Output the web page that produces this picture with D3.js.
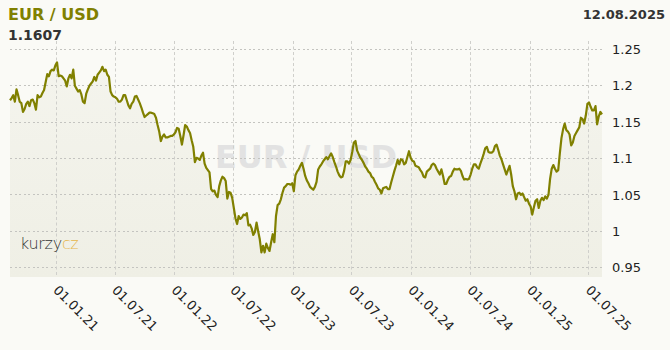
<!DOCTYPE html>
<html>
<head>
<meta charset="utf-8">
<script src="https://cdn.jsdelivr.net/npm/d3@7"></script>
<style>
  html, body { margin: 0; padding: 0; background: #fafaf6; }
  svg { display: block; font-family: "DejaVu Sans", Verdana, sans-serif; }
</style>
</head>
<body>
<svg id="chart" width="670" height="350"></svg>
<script>
// ---- data (EUR/USD, sampled roughly every 5 days) ----
const pairName = "EUR / USD";
const lastValue = "1.1607";
const lastDateLabel = "12.08.2025";
const startDate = "2020-08-12";
const endDate = "2025-08-12";
const rates = [
  1.180,1.183,1.187,1.178,1.195,1.187,1.178,1.176,1.164,1.168,
  1.175,1.178,1.172,1.180,1.181,1.176,1.167,1.187,1.184,1.185,
  1.190,1.194,1.205,1.216,1.213,1.220,1.222,1.221,1.228,1.232,
  1.213,1.214,1.213,1.210,1.207,1.199,1.210,1.215,1.210,1.222,
  1.200,1.196,1.192,1.194,1.188,1.178,1.176,1.189,1.195,1.200,
  1.203,1.206,1.212,1.207,1.215,1.218,1.221,1.226,1.220,1.222,
  1.215,1.212,1.192,1.187,1.185,1.184,1.182,1.178,1.178,1.181,
  1.187,1.187,1.180,1.173,1.169,1.175,1.178,1.185,1.186,1.181,
  1.176,1.170,1.163,1.157,1.159,1.161,1.163,1.163,1.162,1.161,
  1.156,1.146,1.137,1.124,1.130,1.133,1.129,1.129,1.130,1.131,
  1.131,1.133,1.136,1.142,1.141,1.131,1.119,1.132,1.146,1.144,
  1.139,1.135,1.125,1.116,1.095,1.101,1.100,1.098,1.104,1.108,
  1.093,1.087,1.084,1.081,1.058,1.055,1.056,1.050,1.047,1.062,
  1.070,1.075,1.073,1.069,1.045,1.054,1.053,1.046,1.032,1.018,
  1.010,1.021,1.017,1.019,1.023,1.022,1.025,1.008,1.009,1.004,
  0.995,0.999,1.012,1.000,0.989,0.971,0.980,0.971,0.983,0.977,
  0.973,0.985,0.996,0.985,1.021,1.036,1.038,1.044,1.053,1.060,
  1.062,1.065,1.065,1.064,1.066,1.055,1.077,1.082,1.085,1.090,
  1.094,1.086,1.076,1.070,1.066,1.061,1.059,1.057,1.061,1.068,
  1.085,1.089,1.092,1.096,1.099,1.102,1.099,1.103,1.107,1.102,
  1.095,1.089,1.082,1.077,1.074,1.075,1.083,1.096,1.096,1.093,
  1.098,1.109,1.122,1.124,1.111,1.106,1.101,1.098,1.094,1.089,
  1.086,1.082,1.080,1.075,1.073,1.068,1.064,1.059,1.057,1.052,
  1.059,1.060,1.061,1.058,1.058,1.067,1.075,1.083,1.090,1.098,
  1.092,1.099,1.098,1.092,1.094,1.102,1.110,1.101,1.097,1.096,
  1.090,1.089,1.088,1.084,1.081,1.075,1.074,1.082,1.084,1.086,
  1.091,1.093,1.091,1.086,1.082,1.078,1.085,1.076,1.065,1.065,
  1.071,1.075,1.076,1.082,1.086,1.085,1.085,1.086,1.083,1.076,
  1.071,1.072,1.071,1.072,1.078,1.086,1.092,1.092,1.088,1.086,
  1.093,1.099,1.106,1.114,1.116,1.109,1.108,1.108,1.110,1.117,
  1.119,1.112,1.104,1.099,1.092,1.085,1.078,1.084,1.090,1.078,
  1.062,1.055,1.044,1.052,1.053,1.050,1.052,1.047,1.042,1.044,
  1.038,1.034,1.023,1.033,1.042,1.044,1.032,1.042,1.046,1.043,
  1.048,1.045,1.050,1.072,1.086,1.091,1.086,1.082,1.084,1.107,
  1.128,1.140,1.148,1.139,1.137,1.133,1.118,1.122,1.131,1.135,
  1.139,1.143,1.156,1.154,1.148,1.159,1.175,1.177,1.171,1.166,
  1.166,1.172,1.147,1.158,1.164,1.1607
];
const yTicks = [0.95, 1, 1.05, 1.1, 1.15, 1.2, 1.25];
const yTickLabels = ["0.95", "1", "1.05", "1.1", "1.15", "1.2", "1.25"];
const xTickDates = ["2021-01-01","2021-07-01","2022-01-01","2022-07-01","2023-01-01",
                    "2023-07-01","2024-01-01","2024-07-01","2025-01-01","2025-07-01"];
const xTickLabels = ["01.01.21","01.07.21","01.01.22","01.07.22","01.01.23",
                     "01.07.23","01.01.24","01.07.24","01.01.25","01.07.25"];

// ---- build ----
const parse = d3.utcParse("%Y-%m-%d");
const t0 = parse(startDate), t1 = parse(endDate);
const data = rates.map((v, i) => ({
  date: new Date(+t0 + i * (t1 - t0) / (rates.length - 1)),
  value: v
}));

const svg = d3.select("#chart");
const plotLeft = 10, plotRight = 602, plotTop = 41, plotBottom = 277;

const x = d3.scaleUtc().domain([t0, t1]).range([plotLeft, plotRight]);
const y = d3.scaleLinear().domain([0.95, 1.25]).range([267.7, 49.3]);

svg.append("rect").attr("width", 670).attr("height", 350).attr("fill", "#fafaf6");

// area fill under the line
const grad = svg.append("defs").append("linearGradient")
  .attr("id", "fillGrad").attr("x1", 0).attr("y1", 0).attr("x2", 0).attr("y2", 1);
grad.append("stop").attr("offset", "0%").attr("stop-color", "#f4f4ed");
grad.append("stop").attr("offset", "100%").attr("stop-color", "#efefe5");

svg.append("path")
  .datum(data)
  .attr("fill", "url(#fillGrad)")
  .attr("d", d3.area().x(d => x(d.date)).y0(plotBottom).y1(d => y(d.value)));

// watermark
svg.append("text")
  .attr("x", (plotLeft + plotRight) / 2).attr("y", 168)
  .attr("text-anchor", "middle")
  .attr("font-size", 32).attr("font-weight", "bold")
  .attr("fill", "#e2e2e2")
  .text(pairName);

// horizontal grid
svg.append("g").selectAll("line").data(yTicks).join("line")
  .attr("x1", plotLeft).attr("x2", plotRight)
  .attr("y1", d => y(d)).attr("y2", d => y(d))
  .attr("stroke", "#c4c4c0").attr("stroke-width", 1)
  .attr("stroke-dasharray", "2,2.5")
  .attr("shape-rendering", "crispEdges");

// vertical grid
const xDates = xTickDates.map(parse);
svg.append("g").selectAll("line").data(xDates).join("line")
  .attr("x1", d => Math.round(x(d)) + 0.5).attr("x2", d => Math.round(x(d)) + 0.5)
  .attr("y1", plotTop).attr("y2", plotBottom)
  .attr("stroke", "#cfcfcb").attr("stroke-width", 1)
  .attr("stroke-dasharray", "3,2.5");

// logo
const logo = svg.append("text").attr("x", 20).attr("y", 249)
  .attr("font-size", 16).attr("font-weight", 200).attr("letter-spacing", -0.3);
logo.append("tspan").attr("fill", "#333333").text("kurzy");
logo.append("tspan").attr("fill", "#e6b54a").text("cz");

// line
svg.append("path")
  .datum(data)
  .attr("fill", "none")
  .attr("stroke", "#808000")
  .attr("stroke-width", 2.2)
  .attr("stroke-linejoin", "round")
  .attr("d", d3.line().x(d => x(d.date)).y(d => y(d.value)));

// y axis (right)
const yAxis = svg.append("g")
  .attr("transform", `translate(612,0)`)
  .call(d3.axisRight(y).tickValues(yTicks).tickSize(0).tickPadding(0)
        .tickFormat((d, i) => yTickLabels[i]));
yAxis.select(".domain").remove();
yAxis.selectAll("text").attr("font-size", 13).attr("fill", "#222")
  .attr("font-family", "DejaVu Sans, Verdana, sans-serif");

// x axis (bottom, rotated labels)
const xAxis = svg.append("g")
  .attr("transform", `translate(0,${plotBottom})`)
  .call(d3.axisBottom(x).tickValues(xDates).tickSize(0)
        .tickFormat((d, i) => xTickLabels[i]));
xAxis.select(".domain").remove();
xAxis.selectAll("text")
  .attr("y", 0).attr("dy", 0).attr("x", 0)
  .attr("text-anchor", "start")
  .attr("transform", "translate(-4,14) rotate(45)")
  .attr("font-size", 13).attr("fill", "#222")
  .attr("font-family", "DejaVu Sans, Verdana, sans-serif");

// header texts
svg.append("text").attr("x", 8).attr("y", 19.5)
  .attr("font-size", 16).attr("font-weight", "bold").attr("fill", "#808000")
  .text(pairName);
svg.append("text").attr("x", 8).attr("y", 39.5)
  .attr("font-size", 14).attr("font-weight", "bold").attr("fill", "#333")
  .text(lastValue);
svg.append("text").attr("x", 665).attr("y", 18.5).attr("text-anchor", "end")
  .attr("font-size", 13).attr("font-weight", "bold").attr("fill", "#333")
  .text(lastDateLabel);
</script>
</body>
</html>
